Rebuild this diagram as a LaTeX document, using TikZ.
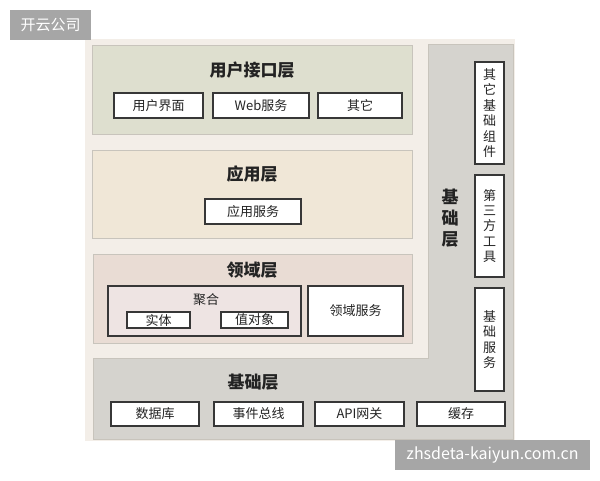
\documentclass[tikz,border=0pt]{standalone}
\usepackage{fontspec}
\setmainfont{Noto Sans CJK SC}
\usetikzlibrary{positioning}

\definecolor{paperColor}{RGB}{243,238,232}
\definecolor{uiColor}{RGB}{222,223,207}
\definecolor{appColor}{RGB}{240,231,215}
\definecolor{domColor}{RGB}{233,220,212}
\definecolor{aggColor}{RGB}{238,228,227}
\definecolor{baseColor}{RGB}{213,211,206}
\definecolor{layerLine}{RGB}{200,196,188}
\definecolor{boxLine}{RGB}{55,55,55}
\definecolor{textColor}{RGB}{35,35,35}
\definecolor{wmColor}{RGB}{166,166,166}

\tikzset{
  item/.style={draw=boxLine,fill=white,line width=1.1pt,inner sep=0pt,
    text=textColor,font=\fontsize{13}{15.4}\selectfont,align=center},
  vitem/.style={item,minimum width=29pt},
  title/.style={text=textColor,inner sep=0pt,font=\fontsize{17}{21}\selectfont\bfseries,align=center},
  wmark/.style={fill=wmColor,text=white,inner sep=0pt}
}

\begin{document}
\begin{tikzpicture}[x=1pt,y=-1pt]
\path[use as bounding box,fill=white] (0,0) rectangle (600,480);
\path[fill=paperColor] (85,39) rectangle (515,441);

% layers
\path[draw=layerLine,line width=0.6pt,fill=uiColor] (92,45) rectangle (412,134);
\path[draw=layerLine,line width=0.6pt,fill=appColor] (92,150) rectangle (412,238);
\path[draw=layerLine,line width=0.6pt,fill=domColor] (93,254) rectangle (412,343);
\path[draw=layerLine,line width=0.6pt,fill=baseColor]
  (428,44) -- (513,44) -- (513,439) -- (93,439) -- (93,358) -- (428,358) -- cycle;

% user interface layer
\node[title] (uiTitle) at (252,70) {用户接口层};
\node[item,minimum width=89pt,minimum height=25pt] (uiPage) at (158.5,105.5) {用户界面};
\node[item,minimum width=96pt,minimum height=25pt] (uiWeb) at (261,105.5) {Web服务};
\node[item,minimum width=84pt,minimum height=25pt] (uiOther) at (360,105.5) {其它};

% application layer
\node[title] (appTitle) at (252,174) {应用层};
\node[item,minimum width=96pt,minimum height=25pt] (appSvc) at (253,211.5) {应用服务};

% domain layer
\node[title] (domTitle) at (252,270) {领域层};
\node[item,fill=aggColor,minimum width=193pt,minimum height=50pt] (domAgg) at (204.5,311) {};
\node[text=textColor,inner sep=0pt,font=\fontsize{13}{15.4}\selectfont] (aggLabel) at (206,300) {聚合};
\node[item,minimum width=63pt,minimum height=16pt] (domEnt) at (158.5,320) {实体};
\node[item,minimum width=67pt,minimum height=16pt] (domVal) at (254.5,320) {值对象};
\node[item,minimum width=95pt,minimum height=50pt] (domSvc) at (355.5,311) {领域服务};

% infrastructure layer
\node[title] (baseTitle) at (253,382) {基础层};
\node[item,minimum width=88pt,minimum height=24pt] (baseDb) at (155,414) {数据库};
\node[item,minimum width=89pt,minimum height=24pt] (baseBus) at (258.5,414) {事件总线};
\node[item,minimum width=89pt,minimum height=24pt] (baseApi) at (359.5,414) {API网关};
\node[item,minimum width=88pt,minimum height=24pt] (baseCache) at (461,414) {缓存};
\node[title] (sideTitle) at (450,218) {基\\础\\层};
\node[vitem,minimum height=102pt] (sideOther) at (489.5,113) {其\\它\\基\\础\\组\\件};
\node[vitem,minimum height=102pt] (sideTool) at (489.5,226) {第\\三\\方\\工\\具};
\node[vitem,minimum height=103pt] (sideSvc) at (489.5,339.5) {基\\础\\服\\务};

% watermarks
\node[wmark,minimum width=81pt,minimum height=30pt,font=\fontsize{15}{18}\selectfont] (wmTop) at (50.5,25) {开云公司};
\node[wmark,minimum width=195pt,minimum height=30pt,font=\fontsize{16}{19}\selectfont] (wmBottom) at (492.5,455) {zhsdeta-kaiyun.com.cn};
\end{tikzpicture}
\end{document}
